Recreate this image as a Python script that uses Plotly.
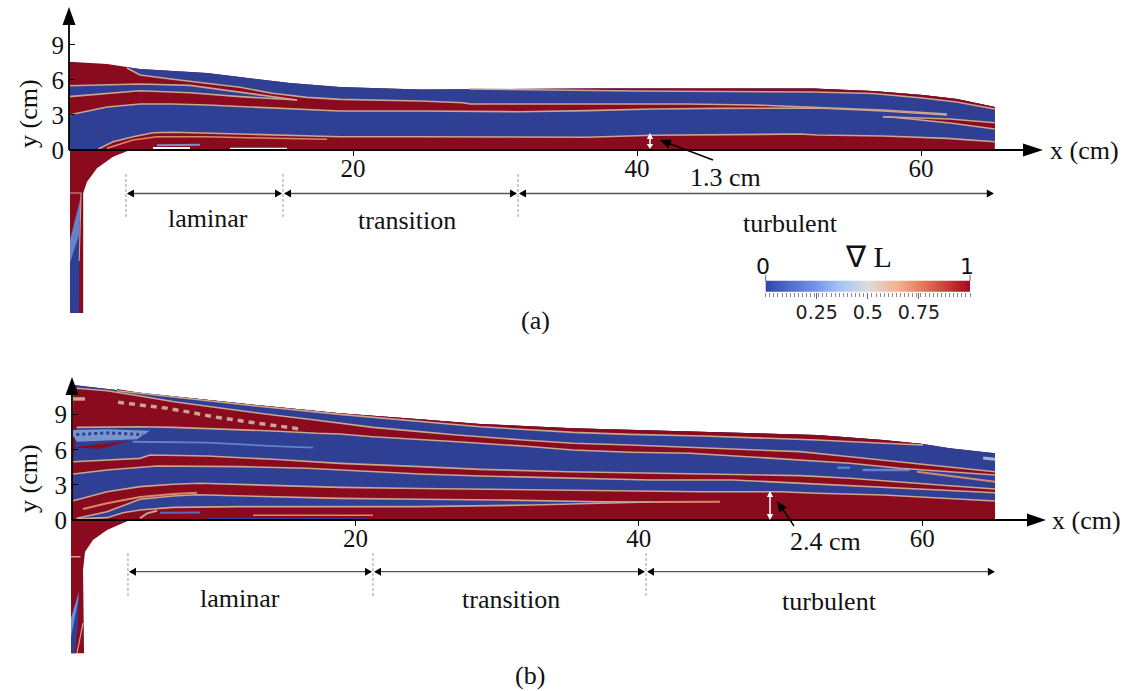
import numpy as np
import plotly.graph_objects as go

W, H = 1127, 691
RED, BLUE, TAN, ORANGE, LIGHT = "#8a0a1e", "#2f3f93", "#c9a592", "#d58a68", "#6483c8"
SERIF = "Liberation Serif"

# ---------- panel (a) band boundaries, x and y in cm ----------
a_top_x = [0, 2.68, 5.0, 9.72, 12.04, 15.56, 19.08, 24.72, 37.39, 52.39, 56.62, 60.14, 62.54, 65.2]
a_top_y = [7.57, 7.37, 6.94, 6.6, 6.25, 5.74, 5.4, 5.18, 5.27, 5.27, 5.06, 4.71, 4.37, 3.68]
a_strip_x = [28.2, 40, 52.4, 56.6, 60.1, 62.5, 65.2]
a_strip_y = [5.23, 5.06, 4.97, 4.84, 4.46, 4.11, 3.51]
a_upper_x = [4.08, 5.0, 7.32, 9.72, 12.04, 14.3, 16.76, 19.08, 21.42, 24.72, 27.75, 28.24, 36.48, 43.52, 48.17, 52.68, 57.32, 61.83]
a_upper_y = [7.03, 6.43, 6.06, 5.71, 5.37, 4.86, 4.51, 4.34, 4.28, 4.2, 4.05, 3.94, 3.94, 3.94, 3.86, 3.63, 3.43, 3.08]
a_lower_x = [0, 2.68, 5.0, 7.32, 9.72, 14.37, 19.08, 24.72, 31.76, 36.48, 41.13, 45.85, 51.48, 52.68, 57.32, 61.83]
a_lower_y = [3.0, 3.68, 3.94, 3.94, 3.86, 3.6, 3.34, 3.34, 3.28, 3.37, 3.51, 3.57, 3.62, 3.6, 3.34, 3.0]
a_mid_top_x = [0, 2.68, 5, 8.52, 10.8, 14.37, 16.06]
a_mid_top_y = [5.51, 5.57, 5.66, 5.54, 5.14, 4.52, 4.28]
a_mid_bot_x = [0, 2.68, 5, 8.52, 12.04, 16.06]
a_mid_bot_y = [4.57, 4.86, 5.08, 4.91, 4.57, 4.28]
a_wall_x = [2.04, 2.18, 3.1, 4.51, 5.92, 7.32, 12.04, 19.08, 24.72, 36.48, 41.13, 51.48, 52.68, 57.32, 61.83, 65.2]
a_wall_y = [0, 0.15, 0.71, 1.14, 1.48, 1.52, 1.37, 1.14, 1.14, 1.09, 1.26, 1.37, 1.29, 1.2, 1.0, 0.71]
a_tail_top_x = [57.32, 59.72, 62.04, 65.2]
a_tail_top_y = [2.85, 2.74, 2.66, 2.34]
a_tail_bot_x = [57.32, 58.03, 62.04, 65.2]
a_tail_bot_y = [2.85, 2.8, 2.31, 1.8]
a_thin_x = [2.68, 4.51, 6.2, 9.72, 14.37, 18.17]
a_thin_y = [0.15, 0.86, 1.14, 1.14, 1.0, 0.92]
a_inlet_x = [4.3, 3.1, 1.97, 1.27, 1.0, 1.0]
a_inlet_y = [0, -0.57, -1.57, -2.72, -3.68, -13.97]
a_inlet_blue_x = [0.07, 0.77, 0.7, 0.07]
a_inlet_blue_y = [-9.68, -6.43, -13.97, -13.97]
a_inlet_light_x = [0.07, 0.85, 0.7, 0.07]
a_inlet_light_y = [-7.71, -3.94, -7.28, -9.68]
a_regimes = [4.01, 15.07, 31.62, 65.2]

# ---------- panel (b) band boundaries ----------
b_top_x = [0.09, 4.8, 11.86, 18.91, 24.56, 28.8, 35.36, 39.38, 44.53, 50.0, 52.58, 57.24, 60.06, 61.96, 65.14]
b_top_y = [11.54, 10.88, 9.97, 9.12, 8.61, 8.21, 7.84, 7.69, 7.5, 7.33, 7.26, 6.84, 6.5, 6.13, 5.7]
b_strip_x = [3.18, 11.86, 18.91, 24.56, 28.8, 35.36, 39.38, 44.53, 50, 52.58, 57.24, 60.06]
b_strip_y = [11.05, 9.89, 9.03, 8.4, 7.97, 7.49, 7.32, 7.18, 6.98, 6.84, 6.56, 6.41]
b_l1_x = [0.33, 2.47, 4.8, 7.2, 9.81, 11.86, 14.19, 16.59, 18.91, 21.24, 24.56, 27.17, 31.83, 35.36, 39.38, 43.61, 47.64, 51.38, 54.9, 58.43, 61.96, 65.14]
b_l1_y = [11.26, 11.05, 10.6, 10.11, 9.68, 9.32, 8.97, 8.63, 8.26, 7.92, 7.55, 7.26, 6.84, 6.56, 6.41, 6.21, 6.04, 5.84, 5.41, 4.98, 4.56, 4.13]
b_l2_x = [0.33, 4.8, 7.2, 11.86, 14.19, 17.29, 18.91, 21.24, 24.56, 27.17, 31.83, 35.36, 39.38, 43.61, 47.64, 51.38, 54.9, 58.43, 61.96, 65.14]
b_l2_y = [7.92, 7.97, 7.92, 7.75, 7.61, 7.41, 7.35, 7.12, 6.9, 6.69, 6.32, 5.98, 5.79, 5.7, 5.41, 5.13, 4.85, 4.42, 4.13, 3.85]
b_r2u_x = [0.09, 4.8, 5.5, 9.53, 14.19, 18.91, 24.56, 28.8, 34.93, 39.59, 44.32, 51.38, 54.9, 58.43, 61.96, 65.14]
b_r2u_y = [4.98, 5.27, 5.56, 5.47, 5.19, 4.84, 4.56, 4.33, 4.13, 4.02, 3.93, 3.79, 3.57, 3.28, 2.93, 2.65]
b_r2l_x = [0.09, 2.47, 6.0, 11.86, 16.59, 21.24, 24.56, 28.8, 34.93, 40.79, 46.65, 51.38, 54.9, 58.43, 61.96, 65.14]
b_r2l_y = [3.93, 4.27, 4.62, 4.56, 4.42, 4.13, 3.93, 3.76, 3.56, 3.42, 3.42, 3.14, 2.93, 2.71, 2.48, 2.33]
b_r3u_x = [0.09, 2.47, 4.8, 7.13, 9.03, 14.19, 18.91, 24.56, 30.2, 37.26, 44.32, 49.96, 52.58, 57.24, 61.96, 65.14]
b_r3u_y = [1.65, 2.42, 2.85, 3.05, 3.14, 2.99, 2.79, 2.69, 2.62, 2.5, 2.42, 2.42, 2.28, 2.14, 1.85, 1.62]
b_b4u_x = [0.33, 2.47, 4.8, 7.13, 8.82, 14.19, 18.91, 24.56, 30.2, 37.26, 40.79]
b_b4u_y = [0.15, 0.71, 1.77, 2.05, 2.16, 1.99, 1.85, 1.77, 1.71, 1.56, 1.54]
b_b4l_x = [0.33, 2.47, 3.6, 4.8, 7.13, 11.86, 24.56, 27.88, 32.53, 37.26, 40.79]
b_b4l_y = [0.1, 0.2, 0.62, 0.85, 1.08, 1.14, 1.14, 1.2, 1.28, 1.43, 1.54]
b_wedge_x = [0.78, 2.47, 4.8, 7.13, 8.82]
b_wedge_y = [0.94, 1.43, 1.97, 2.22, 2.33]
b_dash_x = [3.25, 4.8, 6.7, 8.33, 9.95, 12.35, 14.19, 16.3]
b_dash_y = [10.06, 9.83, 9.55, 9.21, 8.83, 8.4, 8.12, 7.75]
b_faint_x = [4.3, 9.53, 14.19, 17.01]
b_faint_y = [6.69, 6.61, 6.32, 6.18]
b_mottle_x = [0.07, 2.47, 5.5, 4.59, 0.35, 0.07]
b_mottle_y = [7.69, 7.75, 7.63, 6.9, 6.69, 7.2]
b_redtip_x = [0.09, 2.0, 4.1, 2.0]
b_redtip_y = [6.2, 6.5, 6.75, 6.1]
b_end_x = [59.63, 62.46, 65.14]
b_end_y = [4.13, 3.7, 3.27]
b_inlet_x = [4.09, 2.47, 1.48, 0.92, 0.78, 0.85]
b_inlet_y = [0, -0.85, -1.71, -2.71, -4.27, -11.39]
b_inlet_blue_x = [-0.07, 0.49, 0.42, 0.21, -0.07]
b_inlet_blue_y = [-8.4, -6.13, -8.8, -11.39, -11.39]
b_regimes = [3.95, 21.24, 40.51, 65.2]

y_ticks = [0, 3, 6, 9]
x_ticks = [20, 40, 60]
cb_ticks = [0.25, 0.5, 0.75]
cb_labels = ["0.25", "0.5", "0.75"]
cb_scale = [[0, "#2f46ad"], [0.25, "#7596e8"], [0.37, "#a8c4f5"], [0.5, "#dcdcdc"],
            [0.65, "#f5b090"], [0.8, "#dc6a50"], [1, "#a8081f"]]

# ---------- pixel geometry of the two panels ----------
AX = dict(x0=69, sx=14.2, y0=150, sy=11.67, top=5, bot=320)
BX = dict(x0=72, sx=14.17, y0=520, sy=11.7, top=375, bot=660)
LEFT, RIGHT = 60, 1045


def fx(p):
    return p / W


def fy(p):
    return 1 - p / H


fig = go.Figure()


def poly(xs, ys, color, ax):
    fig.add_trace(go.Scatter(x=list(xs), y=list(ys), mode="lines", fill="toself", fillcolor=color,
                             line=dict(width=0, color=color), hoverinfo="skip", showlegend=False,
                             xaxis="x" + ax, yaxis="y" + ax))


def band(x1, y1, x2, y2, color, ax):
    poly(list(x1) + list(x2)[::-1], list(y1) + list(y2)[::-1], color, ax)


def line(xs, ys, ax, color=TAN, width=1.6, dash=None):
    fig.add_trace(go.Scatter(x=list(xs), y=list(ys), mode="lines",
                             line=dict(width=width, color=color, dash=dash), hoverinfo="skip",
                             showlegend=False, xaxis="x" + ax, yaxis="y" + ax))


# ---------- panel (a) ----------
A = ""
band(a_top_x, a_top_y, [0, 65.2], [0, 0], RED, A)
band([0.07] + a_inlet_x[::-1], [-13.97] + a_inlet_y[::-1], [0.07], [0], RED, A)
band([4.08] + a_top_x[2:], [7.1] + a_top_y[2:], a_upper_x, a_upper_y, BLUE, A)
band(a_lower_x, a_lower_y, [0] + a_wall_x, [0] + a_wall_y, BLUE, A)
poly([61.83, 65.2, 65.2, 61.83], [3.08, 3.68, 0.71, 1.0], BLUE, A)
band(a_mid_top_x, a_mid_top_y, a_mid_bot_x, a_mid_bot_y, BLUE, A)
band([28.2] + a_top_x[8:], [5.22] + a_top_y[8:], a_strip_x, a_strip_y, RED, A)
band(a_tail_top_x, a_tail_top_y, a_tail_bot_x, a_tail_bot_y, RED, A)
poly([5.92, 8.52, 8.52, 5.92], [0, 0, 0.26, 0.26], "white", A)
poly([11.34, 15.35, 15.35, 11.34], [0, 0, 0.2, 0.2], "white", A)
line([6.2, 9.22], [0.4, 0.45], A, "#7f8fc0", 2)
line(a_thin_x, a_thin_y, A, ORANGE, 1.5)
poly(a_inlet_blue_x, a_inlet_blue_y, BLUE, A)
poly(a_inlet_light_x, a_inlet_light_y, LIGHT, A)
line([0.07, 0.85, 0.72], [-3.68, -3.68, -9.5], A, TAN, 1.1)
for xs, ys in [(a_upper_x, a_upper_y), (a_lower_x, a_lower_y), (a_mid_top_x, a_mid_top_y),
               (a_mid_bot_x, a_mid_bot_y), (a_wall_x, a_wall_y), (a_strip_x, a_strip_y),
               (a_tail_top_x, a_tail_top_y), (a_tail_bot_x, a_tail_bot_y)]:
    line(xs, ys, A)

# ---------- panel (b) ----------
B = "2"
band(b_top_x, b_top_y, [0.0, 65.14], [0, 0], RED, B)
band([-0.07] + b_inlet_x[::-1], [-11.39] + b_inlet_y[::-1], [-0.07], [0], RED, B)
band(b_top_x, b_top_y, b_l1_x, b_l1_y, BLUE, B)
band([3.18] + b_top_x[1:13], [11.2] + b_top_y[1:13], b_strip_x, b_strip_y, RED, B)
band(b_l2_x, b_l2_y, b_r2u_x, b_r2u_y, BLUE, B)
band(b_r2l_x, b_r2l_y, b_r3u_x, b_r3u_y, BLUE, B)
band(b_b4u_x, b_b4u_y, b_b4l_x, b_b4l_y, BLUE, B)
poly(b_mottle_x, b_mottle_y, "#7896cc", B)
line([0.3, 2.5, 5.0], [7.3, 7.45, 7.3], B, BLUE, 3, "dot")
poly(b_redtip_x, b_redtip_y, RED, B)
line(b_faint_x, b_faint_y, B, LIGHT, 1.8)
line([54.0, 54.9], [4.47, 4.47], B, LIGHT, 2.2)
line([55.8, 59.1], [4.27, 4.27], B, LIGHT, 2.6)
line([64.3, 65.14], [5.3, 5.2], B, "#a9b4cf", 3)
line(b_dash_x, b_dash_y, B, TAN, 3.5, "6px,5px")
line([0.07, 0.92], [10.35, 10.35], B, TAN, 3.5)
line(b_end_x, b_end_y, B, ORANGE, 2)
line(b_wedge_x, b_wedge_y, B, ORANGE, 2)
line([40.79, 45.73], [1.54, 1.56], B, ORANGE, 1.8)
poly([9.53, 20.82, 20.82, 9.53], [0.04, 0.04, 0.14, 0.22], BLUE, B)
line([12.77, 21.24], [0.4, 0.4], B, ORANGE, 1.5)
line([6.21, 9.03], [0.62, 0.64], B, "#5b6db0", 2)
line([4.8, 5.29, 6.0], [0.15, 0.57, 0.79], B, TAN, 2)
poly(b_inlet_blue_x, b_inlet_blue_y, BLUE, B)
poly([-0.07, 0.49, 0.42, -0.07], [-8.4, -6.13, -7.0, -10.0], "#6f8fd0", B)
line([0.78, 0.35], [-8.8, -11.39], B, TAN, 1.2)
line([-0.07, 0.6], [-3.14, -3.14], B, TAN, 1.5)
for xs, ys in [(b_strip_x, b_strip_y), (b_l1_x, b_l1_y), (b_l2_x, b_l2_y), (b_r2u_x, b_r2u_y),
               (b_r2l_x, b_r2l_y), (b_r3u_x, b_r3u_y), (b_b4u_x, b_b4u_y), (b_b4l_x, b_b4l_y)]:
    line(xs, ys, B)

# ---------- colour bar ----------
cb_x = np.linspace(0, 1, 101)
fig.add_trace(go.Heatmap(x=cb_x, y=[0, 1], z=[cb_x, cb_x], colorscale=cb_scale, zmin=0, zmax=1,
                         showscale=False, hoverinfo="skip", xaxis="x3", yaxis="y3"))

# ---------- decorations ----------
shapes = []


def seg(x0, y0, x1, y1, color="black", width=1.0, dash=None):
    shapes.append(dict(type="line", xref="paper", yref="paper", x0=fx(x0), y0=fy(y0), x1=fx(x1), y1=fy(y1),
                       line=dict(color=color, width=width, dash=dash), layer="above"))


def head(tx, ty, bx, by, half, color="black"):
    dx, dy = tx - bx, ty - by
    n = (dx * dx + dy * dy) ** 0.5
    ux, uy = -dy / n * half, dx / n * half
    path = "M {} {} L {} {} L {} {} Z".format(fx(tx), fy(ty), fx(bx + ux), fy(by + uy), fx(bx - ux), fy(by - uy))
    shapes.append(dict(type="path", xref="paper", yref="paper", path=path, fillcolor=color,
                       line=dict(width=0), layer="above"))


def regimes(geo, stops, yy, d0, d1):
    px = [geo["x0"] + geo["sx"] * v for v in stops]
    for a, b in zip(px[:-1], px[1:]):
        seg(a + 2, yy, b - 2, yy, "#555555", 1.3)
        head(a + 1, yy, a + 8, yy, 4)
        head(b - 1, yy, b - 8, yy, 4)
    for p in px[:-1]:
        seg(p, d0, p, d1, "#9a9a9a", 1, "3px,2px")


seg(69, 150, 69, 22, "black", 1.8)
head(69, 7, 69, 25, 6.5)
seg(69, 150, 1025, 150, "black", 2.2)
head(1043, 150, 1023, 150, 6.5)
regimes(AX, a_regimes, 193.5, 174, 217)
seg(650, 137, 650, 146, "white", 1.5)
head(650, 133, 650, 139, 3.2, "white")
head(650, 149, 650, 144, 3.2, "white")
seg(713, 160, 668, 143, "black", 1.4)
head(660, 140, 670, 144, 4.5)

seg(72, 520, 72, 392, "black", 1.8)
head(72, 377, 72, 395, 6.5)
seg(72, 520, 1030, 520, "black", 2.2)
head(1046, 520, 1027, 520, 6.5)
regimes(BX, b_regimes, 571.7, 553, 597)
seg(770, 495, 770, 516, "white", 1.5)
head(770, 491, 770, 497, 3.2, "white")
head(770, 520, 770, 514, 3.2, "white")
seg(794, 526, 782, 508, "black", 1.4)
head(777, 501, 783, 510, 4.5)

seg(765.7, 275, 765.7, 281, "#666666", 1)
seg(970, 275, 970, 281, "#666666", 1)

texts = [
    ("x (cm)", 1084.5, 150, 26, 0, SERIF), ("y (cm)", 28, 113, 26, -90, SERIF),
    ("laminar", 208, 219, 26, 0, SERIF), ("transition", 407, 220, 26, 0, SERIF),
    ("turbulent", 790, 224, 26, 0, SERIF), ("(a)", 535, 320, 26, 0, SERIF),
    ("1.3 cm", 725, 177, 26, 0, SERIF), ("∇ L", 868, 256, 30, 0, SERIF),
    ("0", 763, 266, 22, 0, "DejaVu Sans"), ("1", 967, 266, 22, 0, "DejaVu Sans"),
    ("x (cm)", 1086, 520, 26, 0, SERIF), ("y (cm)", 28, 478, 26, -90, SERIF),
    ("laminar", 240, 598, 26, 0, SERIF), ("transition", 511, 599, 26, 0, SERIF),
    ("turbulent", 829.5, 601, 26, 0, SERIF), ("(b)", 530, 675, 26, 0, SERIF),
    ("2.4 cm", 825, 541, 26, 0, SERIF),
]
annotations = [dict(text=t, x=fx(x), y=fy(y), xref="paper", yref="paper", xanchor="center", yanchor="middle",
                    showarrow=False, textangle=a, font=dict(family=f, size=s, color="#111111"))
               for t, x, y, s, a, f in texts]


def xaxis(geo):
    return dict(domain=[fx(LEFT), fx(RIGHT)], range=[(LEFT - geo["x0"]) / geo["sx"], (RIGHT - geo["x0"]) / geo["sx"]],
                anchor="free", position=fy(geo["y0"]), showgrid=False, zeroline=False, showline=False,
                tickmode="array", tickvals=x_ticks, ticks="outside", ticklen=5, tickwidth=1, tickcolor="black",
                ticklabelstandoff=-9, tickfont=dict(family=SERIF, size=25, color="#111111"))


def yaxis(geo):
    return dict(domain=[fy(geo["bot"]), fy(geo["top"])],
                range=[(geo["y0"] - geo["bot"]) / geo["sy"], (geo["y0"] - geo["top"]) / geo["sy"]],
                anchor="free", position=fx(geo["x0"]), showgrid=False, zeroline=False, showline=False,
                tickmode="array", tickvals=y_ticks, ticks="inside", ticklen=5, tickwidth=1, tickcolor="black",
                ticklabelstandoff=5, tickfont=dict(family=SERIF, size=25, color="#111111"))


fig.update_layout(
    width=W, height=H, margin=dict(l=0, r=0, t=0, b=0), plot_bgcolor="white", paper_bgcolor="white",
    showlegend=False, shapes=shapes, annotations=annotations,
    xaxis=xaxis(AX), yaxis=yaxis(AX),
    xaxis2=xaxis(BX), yaxis2=yaxis(BX),
    xaxis3=dict(domain=[fx(765.7), fx(970)], range=[0, 1], anchor="y3", showgrid=False, zeroline=False,
                tickmode="array", tickvals=cb_ticks, ticktext=cb_labels, ticks="outside", ticklen=6,
                tickcolor="#666666", ticklabelstandoff=-3,
                tickfont=dict(family="DejaVu Sans", size=19, color="#222222"),
                minor=dict(dtick=0.02, ticks="outside", ticklen=4, tickcolor="#888888", tickwidth=1)),
    yaxis3=dict(domain=[fy(291.7), fy(280.7)], range=[0, 1], anchor="x3", visible=False),
)
fig.write_html("out.html", config=dict(displayModeBar=False),
               post_script="document.body.style.margin='0';document.body.style.overflow='hidden';")
